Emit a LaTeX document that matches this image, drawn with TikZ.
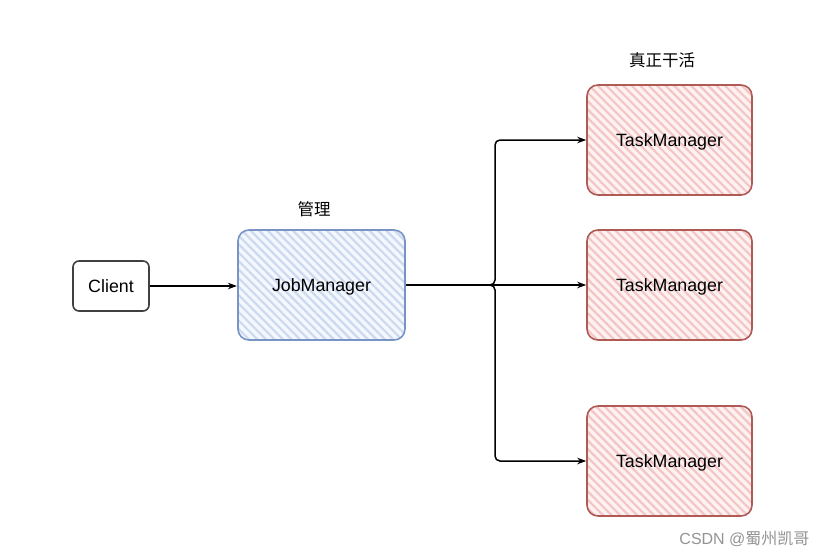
\documentclass[tikz,border=0pt]{standalone}
\usepackage{fontspec}
\setmainfont{Liberation Sans}
\newfontfamily\cjk{Noto Sans CJK SC}
\usetikzlibrary{patterns.meta,arrows.meta}
\definecolor{redline}{HTML}{B05A56}
\definecolor{redfill}{HTML}{FDF1F1}
\definecolor{redhatch}{HTML}{F2C6C4}
\definecolor{blueline}{HTML}{7894C4}
\definecolor{bluefill}{HTML}{F4F7FD}
\definecolor{bluehatch}{HTML}{CCDAF0}
\tikzset{
  lbl/.style={font=\fontsize{17.8}{21}\selectfont, text depth=0pt},
  cjklbl/.style={font=\cjk\fontsize{16.5}{19}\selectfont},
  clientbox/.style={draw=black!75, line width=1.6pt, rounded corners=6pt, fill=white,
    minimum width=76pt, minimum height=50pt, lbl},
  tmbox/.style={draw=redline, line width=1.6pt, rounded corners=11pt,
    preaction={fill=redfill},
    pattern={Lines[angle=-45,distance=6pt,line width=2.2pt]}, pattern color=redhatch,
    minimum width=165pt, minimum height=110pt, lbl},
  jmbox/.style={draw=blueline, line width=1.6pt, rounded corners=11pt,
    preaction={fill=bluefill},
    pattern={Lines[angle=-45,distance=6pt,line width=2.2pt]}, pattern color=bluehatch,
    minimum width=167pt, minimum height=110pt, lbl},
  conn/.style={draw=black, line width=1.5pt, rounded corners=5pt,
    -{Stealth[length=9pt,width=6.5pt]}},
}
\begin{document}
\begin{tikzpicture}[x=1pt,y=-1pt]
\useasboundingbox (0,0) rectangle (828,557);
\fill[white] (0,0) rectangle (828,557);

\node[clientbox] (client) at (111,286) {Client};
\node[jmbox] (jm) at (321.5,285) {JobManager};
\node[tmbox] (tm1) at (669.5,140) {TaskManager};
\node[tmbox] (tm2) at (669.5,285) {TaskManager};
\node[tmbox] (tm3) at (669.5,461) {TaskManager};

\node[cjklbl] (lblmgr) at (314,209) {管理};
\node[cjklbl] (lblwork) at (662,60) {真正干活};
\node[font=\fontsize{16}{18}\selectfont, text=black!42, anchor=east] (wm) at (813,539) {CSDN @{\cjk 蜀州凯哥}};

\coordinate (jx) at (495,285);
\draw[conn] (client.east) -- (jm.west |- client.east);
\draw[conn] (jm.east) -- (tm2.west);
\draw[conn] (jm.east) -- (jx) |- (tm1.west);
\draw[conn] (jm.east) -- (jx) |- (tm3.west);
\end{tikzpicture}
\end{document}
